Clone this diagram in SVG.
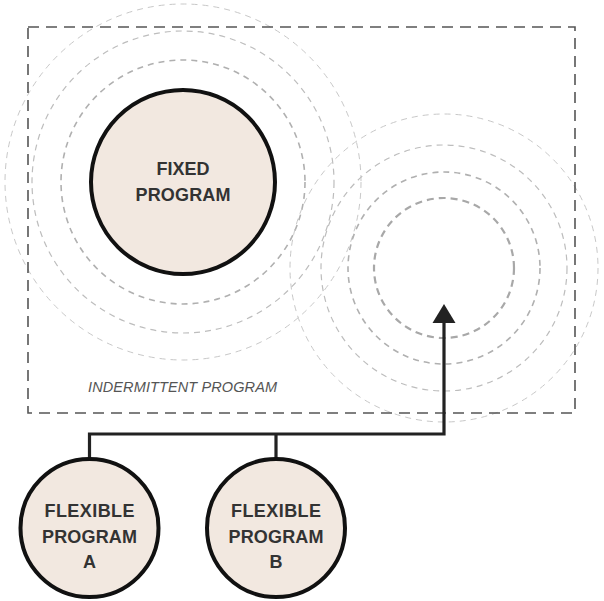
<svg xmlns="http://www.w3.org/2000/svg" width="604" height="601" viewBox="0 0 604 601">
<defs>
<style>
.ring1{fill:none;stroke:#a8a8a8;stroke-width:2.2;stroke-dasharray:7 5}
.ring2{fill:none;stroke:#b0b0b0;stroke-width:1.6;stroke-dasharray:6 5}
.ring3{fill:none;stroke:#bdbdbd;stroke-width:1.2;stroke-dasharray:6 5}
.ring4{fill:none;stroke:#c8c8c8;stroke-width:1;stroke-dasharray:6 5}
.node{fill:#f2e8e0;stroke:#111;stroke-width:4}
.lbl{font-family:"Liberation Sans",Arial,sans-serif;font-weight:bold;font-size:18px;fill:#333;text-anchor:middle}
.conn{fill:none;stroke:#222;stroke-width:3.2}
</style>
<marker id="ah" markerWidth="24" markerHeight="20" refX="12" refY="0" orient="auto-start-reverse" markerUnits="userSpaceOnUse" viewBox="0 0 24 20">
<path d="M0,20 L12,0 L24,20 Z" fill="#222"/>
</marker>
</defs>
<rect width="604" height="601" fill="#fff"/>
<g id="rings">
<circle class="ring2" cx="183" cy="182" r="122"/>
<circle class="ring3" cx="183" cy="182" r="151"/>
<circle class="ring4" cx="183" cy="182" r="178"/>
<circle class="ring1" cx="444" cy="268" r="70"/>
<circle class="ring2" cx="444" cy="268" r="96"/>
<circle class="ring3" cx="444" cy="268" r="123"/>
<circle class="ring4" cx="444" cy="268" r="154"/>
</g>
<g id="intermittent">
<rect x="28" y="27" width="547" height="386" fill="none" stroke="#555" stroke-width="1.6" stroke-dasharray="11 7"/>
<text x="88" y="392" font-family="'Liberation Sans',Arial,sans-serif" font-style="italic" font-size="14.5" fill="#555" textLength="189">INDERMITTENT PROGRAM</text>
</g>
<g id="connectors">
<path class="conn" d="M89.5,459 V434 H444 V323"/>
<path class="conn" d="M276,459 V434"/>
<path d="M432.5,323 L444,304 L455.5,323 Z" fill="#222"/>
</g>
<g id="fixed">
<circle class="node" cx="183" cy="182" r="92"/>
<text class="lbl" x="183" y="175">FIXED</text>
<text class="lbl" x="183" y="201" textLength="95">PROGRAM</text>
</g>
<g id="flexA">
<circle class="node" cx="89.5" cy="528" r="69"/>
<text class="lbl" x="89.5" y="517" textLength="90">FLEXIBLE</text>
<text class="lbl" x="89.5" y="543" textLength="95">PROGRAM</text>
<text class="lbl" x="89.5" y="568">A</text>
</g>
<g id="flexB">
<circle class="node" cx="276" cy="528" r="69"/>
<text class="lbl" x="276" y="517" textLength="90">FLEXIBLE</text>
<text class="lbl" x="276" y="543" textLength="95">PROGRAM</text>
<text class="lbl" x="276" y="568">B</text>
</g>
</svg>
